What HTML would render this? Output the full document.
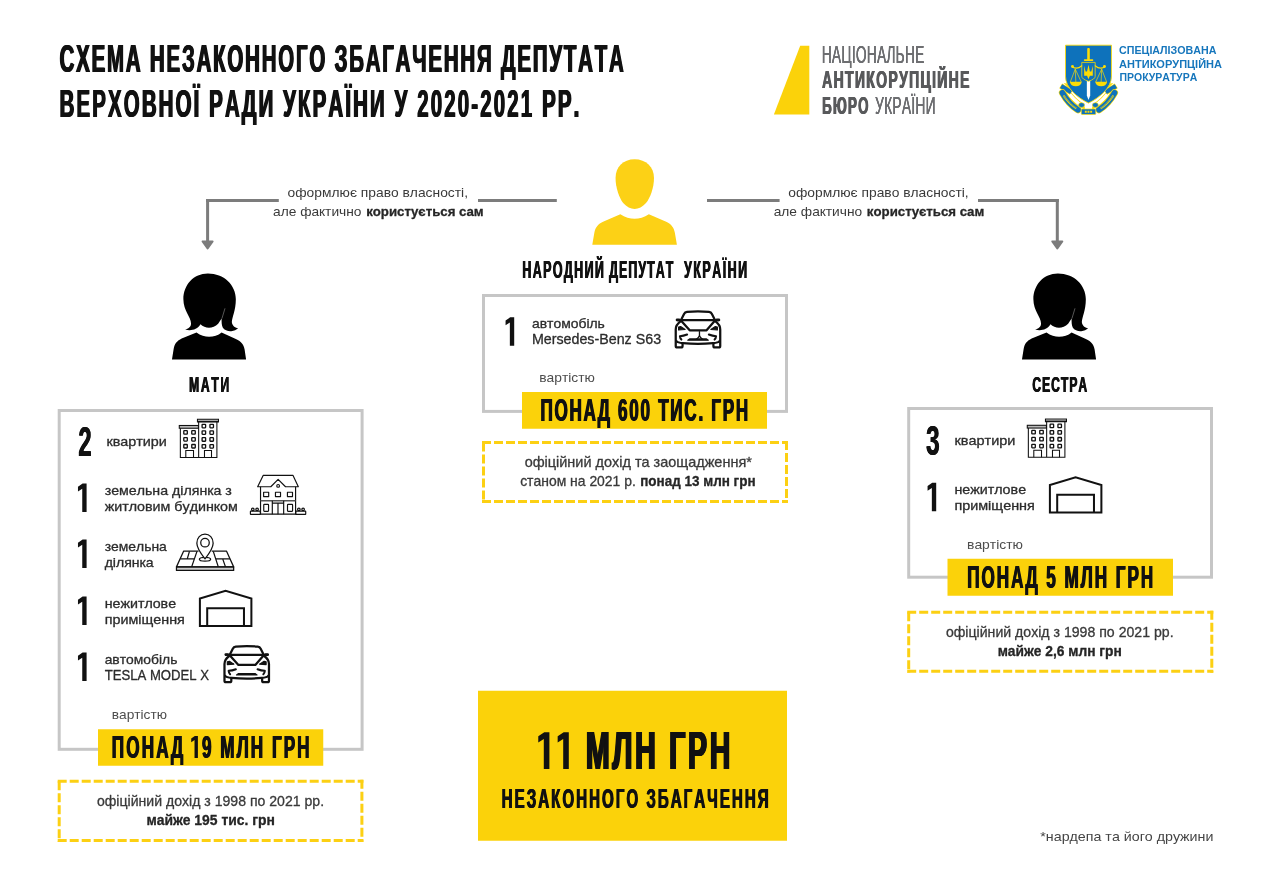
<!DOCTYPE html>
<html lang="uk"><head><meta charset="utf-8"><title>Схема</title>
<style>
html,body{margin:0;padding:0;background:#fff;}
body{width:1280px;height:877px;overflow:hidden;}
svg{display:block;font-family:"Liberation Sans", sans-serif;will-change:transform;}
text{white-space:pre;font-kerning:none;}
</style></head><body>
<svg width="1280" height="877" viewBox="0 0 1280 877">
<rect width="1280" height="877" fill="#fff"/>
<text id="t1" transform="translate(59.58,71.50) scale(0.5350,1)" font-size="38.18" font-weight="bold" fill="#111" letter-spacing="3.409">СХЕМА НЕЗАКОННОГО ЗБАГАЧЕННЯ ДЕПУТАТА</text>
<use href="#t1" x="-0.58"/>
<use href="#t1" x="0.58"/>
<text id="t2" transform="translate(59.58,116.50) scale(0.5350,1)" font-size="38.18" font-weight="bold" fill="#111" letter-spacing="4.009">ВЕРХОВНОЇ РАДИ УКРАЇНИ У 2020-2021 РР.</text>
<use href="#t2" x="-0.58"/>
<use href="#t2" x="0.58"/>
<polygon points="800.2,45.7 809.3,45.7 809.3,114.4 773.9,114.4" fill="#fbd20a"/>
<text id="t3" transform="translate(821.82,63.00) scale(0.5567,1)" font-size="24.58" font-weight="normal" fill="#6d6e71" letter-spacing="0.539">НАЦІОНАЛЬНЕ</text>
<use href="#t3" x="-0.12"/>
<use href="#t3" x="0.12"/>
<text id="t4" transform="translate(822.11,88.30) scale(0.5945,1)" font-size="23.64" font-weight="bold" fill="#58595b" letter-spacing="2.187">АНТИКОРУПЦІЙНЕ</text>
<use href="#t4" x="-0.41"/>
<use href="#t4" x="0.41"/>
<text id="t5" transform="translate(822.16,113.70) scale(0.5624,1)" font-size="23.64" font-weight="bold" fill="#58595b" letter-spacing="2.312">БЮРО</text>
<use href="#t5" x="-0.46"/>
<use href="#t5" x="0.46"/>
<text id="t6" transform="translate(875.10,113.70) scale(0.5727,1)" font-size="24.00" font-weight="normal" fill="#6d6e71" letter-spacing="0.524">УКРАЇНИ</text>
<use href="#t6" x="-0.10"/>
<use href="#t6" x="0.10"/>
<text x="1119.10" y="53.50" font-size="11.63" font-weight="bold" fill="#1676bc" textLength="97.30" lengthAdjust="spacingAndGlyphs">СПЕЦІАЛІЗОВАНА</text>
<text x="1119.10" y="67.50" font-size="11.63" font-weight="bold" fill="#1676bc" textLength="102.90" lengthAdjust="spacingAndGlyphs">АНТИКОРУПЦІЙНА</text>
<text x="1119.60" y="81.40" font-size="11.63" font-weight="bold" fill="#1676bc" textLength="77.60" lengthAdjust="spacingAndGlyphs">ПРОКУРАТУРА</text>
<g transform="translate(1054,38) scale(0.09576)">
<g fill="none" stroke-linecap="butt">
<g>
<path d="M140,555 Q200,650 300,712" stroke="#fddc05" stroke-width="50"/>
<path d="M140,555 Q200,650 300,712" stroke="#fff" stroke-width="36"/>
<path d="M70,500 L180,566" stroke="#fddc05" stroke-width="60"/>
<path d="M74,502 L180,566" stroke="#0e72bb" stroke-width="46"/>
<path d="M100,470 L150,478 L160,530 Z" fill="#fddc05" stroke="none"/>
<path d="M88,572 Q150,685 250,750" stroke="#fddc05" stroke-width="74" stroke-linecap="round"/>
<path d="M88,572 Q150,685 250,750" stroke="#0e72bb" stroke-width="60" stroke-linecap="round"/>
<path d="M100,600 Q155,690 235,738" stroke="#fddc05" stroke-width="20" stroke-dasharray="9 5"/>
<path d="M292,716 L322,716 L322,745 L300,745 Z" fill="#fddc05" stroke="none"/>
<ellipse cx="288" cy="700" rx="31" ry="25" fill="#0e72bb" stroke="#fddc05" stroke-width="6"/>
</g>
<g transform="translate(720,0) scale(-1,1)">
<path d="M140,555 Q200,650 300,712" stroke="#fddc05" stroke-width="50"/>
<path d="M140,555 Q200,650 300,712" stroke="#fff" stroke-width="36"/>
<path d="M70,500 L180,566" stroke="#fddc05" stroke-width="60"/>
<path d="M74,502 L180,566" stroke="#0e72bb" stroke-width="46"/>
<path d="M100,470 L150,478 L160,530 Z" fill="#fddc05" stroke="none"/>
<path d="M88,572 Q150,685 250,750" stroke="#fddc05" stroke-width="74" stroke-linecap="round"/>
<path d="M88,572 Q150,685 250,750" stroke="#0e72bb" stroke-width="60" stroke-linecap="round"/>
<path d="M100,600 Q155,690 235,738" stroke="#fddc05" stroke-width="20" stroke-dasharray="9 5"/>
<path d="M292,716 L322,716 L322,745 L300,745 Z" fill="#fddc05" stroke="none"/>
<ellipse cx="288" cy="700" rx="31" ry="25" fill="#0e72bb" stroke="#fddc05" stroke-width="6"/>
</g>
</g>
<rect x="285" y="741" width="151" height="58" rx="8" fill="#0e72bb" stroke="#fddc05" stroke-width="7"/>
<path d="M322,770 H400" stroke="#fddc05" stroke-width="22" stroke-dasharray="20 8" fill="none"/>
<path d="M120,75 L600,75 L600,400 C600,520 480,620 360,680 C240,620 120,520 120,400 Z" fill="#0e72bb" stroke="#fddc05" stroke-width="9"/>
<path d="M343,445 L378,445 L378,600 L360,648 L343,600 Z" fill="#fff"/>
<rect x="347" y="105" width="27" height="130" rx="10" fill="#fddc05"/>
<rect x="312" y="222" width="98" height="18" rx="8" fill="#fddc05"/>
<path d="M290,255 L430,255 L430,400 Q430,430 360,452 Q290,430 290,400 Z" fill="#0e72bb" stroke="#fddc05" stroke-width="8"/>
<path d="M315,290 L330,350 L345,350 L360,280 L375,350 L390,350 L405,290 L405,395 L375,395 L360,430 L345,395 L315,395 Z" fill="#fddc05"/>
<g fill="none" stroke="#fddc05" stroke-width="12" stroke-linecap="round">
<path d="M290,290 Q240,335 190,300"/><path d="M430,290 Q480,335 530,300"/>
</g>
<circle cx="193" cy="298" r="15" fill="#fddc05"/><circle cx="527" cy="298" r="15" fill="#fddc05"/>
<g fill="none" stroke="#fddc05" stroke-width="7">
<path d="M222,325 L170,460 M222,325 L285,460 M222,325 L228,460"/>
<path d="M498,325 L550,460 M498,325 L435,460 M498,325 L492,460"/>
</g>
<path d="M165,458 L290,458 Q280,505 228,505 Q175,505 165,458 Z" fill="#fddc05"/>
<path d="M430,458 L555,458 Q545,505 493,505 Q440,505 430,458 Z" fill="#fddc05"/>
</g>
<rect x="206.1" y="199" width="72.70000000000002" height="3" fill="#7c7c7c"/>
<rect x="478" y="199" width="78.79999999999995" height="3" fill="#7c7c7c"/>
<rect x="206.1" y="199" width="3" height="43" fill="#7c7c7c"/>
<path d="M202.6,241.4 L212.6,241.4 L207.6,248.4 Z" fill="#7c7c7c" stroke="#7c7c7c" stroke-width="2" stroke-linejoin="round"/>
<rect x="707" y="199" width="72.60000000000002" height="3" fill="#7c7c7c"/>
<rect x="978" y="199" width="80.79999999999995" height="3" fill="#7c7c7c"/>
<rect x="1055.8" y="199" width="3" height="43" fill="#7c7c7c"/>
<path d="M1052.3,241.4 L1062.3,241.4 L1057.3,248.4 Z" fill="#7c7c7c" stroke="#7c7c7c" stroke-width="2" stroke-linejoin="round"/>
<text x="287.50" y="197.00" font-size="13.60" font-weight="normal" fill="#3a3a3a" textLength="180.51" lengthAdjust="spacingAndGlyphs">оформлює право власності,</text>
<text x="273.00" y="216.00" font-size="13.60" font-weight="normal" fill="#3a3a3a" textLength="88.50" lengthAdjust="spacingAndGlyphs">але фактично</text>
<text x="366.15" y="216.00" font-size="13.60" font-weight="bold" fill="#262626" textLength="117.45" lengthAdjust="spacingAndGlyphs" stroke="#262626" stroke-width="0.3" stroke-linejoin="round">користується сам</text>
<text x="788.20" y="197.00" font-size="13.60" font-weight="normal" fill="#3a3a3a" textLength="180.51" lengthAdjust="spacingAndGlyphs">оформлює право власності,</text>
<text x="773.70" y="216.00" font-size="13.60" font-weight="normal" fill="#3a3a3a" textLength="88.50" lengthAdjust="spacingAndGlyphs">але фактично</text>
<text x="866.85" y="216.00" font-size="13.60" font-weight="bold" fill="#262626" textLength="117.45" lengthAdjust="spacingAndGlyphs" stroke="#262626" stroke-width="0.3" stroke-linejoin="round">користується сам</text>
<g transform="translate(585,150) scale(0.11403)" fill="#fcd116">
<path d="M435,82 C335,82 268,150 268,245 C268,330 300,420 335,465 C365,500 400,517 435,517 C470,517 505,500 535,465 C572,420 605,330 605,245 C605,150 535,82 435,82 Z"/>
<path d="M310,563 C350,592 395,603 435,603 C475,603 520,592 560,563 L712,630 C760,652 780,685 788,725 L806,830 L64,830 L82,725 C90,685 110,652 158,630 Z"/>
</g>
<g transform="translate(160,265) scale(0.11403)" fill="#000">
<path d="M420,75 C295,75 205,175 205,300 C205,400 272,455 272,512 C272,545 248,556 220,565 C262,580 325,572 355,520 C395,560 465,562 510,515 L540,470 C540,500 540,530 550,548 C565,575 600,582 625,580 C650,578 670,568 685,555 C655,550 632,530 630,500 C630,460 665,400 665,300 C665,175 560,75 420,75 Z"/>
<path d="M320,592 C355,620 395,630 430,630 C470,630 510,618 540,592 L665,648 C715,670 735,700 742,740 L755,828 L105,828 L120,735 C128,690 150,665 190,645 Z"/>
<path d="M570,380 L543,470" stroke="#fff" stroke-width="3" fill="none"/>
</g>
<g transform="translate(1010,265) scale(0.11403)" fill="#000">
<path d="M420,75 C295,75 205,175 205,300 C205,400 272,455 272,512 C272,545 248,556 220,565 C262,580 325,572 355,520 C395,560 465,562 510,515 L540,470 C540,500 540,530 550,548 C565,575 600,582 625,580 C650,578 670,568 685,555 C655,550 632,530 630,500 C630,460 665,400 665,300 C665,175 560,75 420,75 Z"/>
<path d="M320,592 C355,620 395,630 430,630 C470,630 510,618 540,592 L665,648 C715,670 735,700 742,740 L755,828 L105,828 L120,735 C128,690 150,665 190,645 Z"/>
<path d="M570,380 L543,470" stroke="#fff" stroke-width="3" fill="none"/>
</g>
<text id="t7" transform="translate(522.35,278.00) scale(0.5350,1)" font-size="23.27" font-weight="bold" fill="#111" letter-spacing="2.620">НАРОДНИЙ</text>
<use href="#t7" x="-0.35"/>
<use href="#t7" x="0.35"/>
<text id="t8" transform="translate(609.10,278.00) scale(0.5350,1)" font-size="23.27" font-weight="bold" fill="#111" letter-spacing="1.939">ДЕПУТАТ</text>
<use href="#t8" x="-0.35"/>
<use href="#t8" x="0.35"/>
<text id="t9" transform="translate(684.10,278.00) scale(0.5350,1)" font-size="23.27" font-weight="bold" fill="#111" letter-spacing="2.812">УКРАЇНИ</text>
<use href="#t9" x="-0.35"/>
<use href="#t9" x="0.35"/>
<text id="t10" transform="translate(189.09,391.75) scale(0.5350,1)" font-size="22.55" font-weight="bold" fill="#111" letter-spacing="3.284">МАТИ</text>
<use href="#t10" x="-0.34"/>
<use href="#t10" x="0.34"/>
<text id="t11" transform="translate(1032.34,391.75) scale(0.5350,1)" font-size="22.55" font-weight="bold" fill="#111" letter-spacing="1.955">СЕСТРА</text>
<use href="#t11" x="-0.34"/>
<use href="#t11" x="0.34"/>
<rect x="483.5" y="295.5" width="303" height="115.89999999999998" fill="none" stroke="#c6c6c6" stroke-width="3"/>
<rect x="59.2" y="410.5" width="302.90000000000003" height="338.79999999999995" fill="none" stroke="#c6c6c6" stroke-width="3"/>
<rect x="908.7" y="408.5" width="302.79999999999995" height="168.70000000000005" fill="none" stroke="#c6c6c6" stroke-width="3"/>
<g stroke="#fcd013" stroke-width="3.0" stroke-dasharray="9 3" fill="none"><path d="M482,442.5 H788"/><path d="M482,501.5 H788"/><path d="M483.5,442.5 V503"/><path d="M786.5,441 V503"/></g>
<g stroke="#fcd013" stroke-width="3.0" stroke-dasharray="9 3" fill="none"><path d="M57.7,781.3 H363.4"/><path d="M57.7,840.4 H363.4"/><path d="M59.2,781.3 V841.9"/><path d="M361.9,779.8 V841.9"/></g>
<g stroke="#fcd013" stroke-width="3.0" stroke-dasharray="9 3" fill="none"><path d="M907.2,612.2 H1213.3"/><path d="M907.2,671.3 H1213.3"/><path d="M908.7,612.2 V672.8"/><path d="M1211.8,610.7 V672.8"/></g>
<rect x="522" y="392" width="245" height="36.75" fill="#fbd20a"/>
<rect x="98" y="729.25" width="225.25" height="36.5" fill="#fbd20a"/>
<rect x="947.5" y="558.75" width="225.5" height="37.0" fill="#fbd20a"/>
<rect x="478" y="690.75" width="309" height="150.0" fill="#fbd20a"/>
<text id="t12" transform="translate(540.48,420.75) scale(0.5350,1)" font-size="32.00" font-weight="bold" fill="#111" letter-spacing="3.193">ПОНАД 600 ТИС. ГРН</text>
<use href="#t12" x="-0.48"/>
<use href="#t12" x="0.48"/>
<text id="t13" transform="translate(111.73,758.00) scale(0.5350,1)" font-size="32.00" font-weight="bold" fill="#111" letter-spacing="4.133">ПОНАД</text>
<use href="#t13" x="-0.48"/>
<use href="#t13" x="0.48"/>
<path d="M197.90,758.00 V736.00 H194.82 L191.21,738.42 V742.16 L194.53,739.96 V758.00 Z" fill="#111"/>
<text id="t14" transform="translate(201.98,758.00) scale(0.5350,1)" font-size="32.00" font-weight="bold" fill="#111" letter-spacing="3.826">9 МЛН ГРН</text>
<use href="#t14" x="-0.48"/>
<use href="#t14" x="0.48"/>
<text id="t15" transform="translate(967.23,588.00) scale(0.5350,1)" font-size="32.00" font-weight="bold" fill="#111" letter-spacing="3.682">ПОНАД 5 МЛН ГРН</text>
<use href="#t15" x="-0.48"/>
<use href="#t15" x="0.48"/>
<path d="M549.40,768.90 V732.30 H544.28 L538.27,736.33 V742.55 L543.80,738.89 V768.90 Z" fill="#111"/>
<path d="M568.80,768.90 V732.30 H563.68 L557.67,736.33 V742.55 L563.20,738.89 V768.90 Z" fill="#111"/>
<text id="t16" transform="translate(585.91,768.75) scale(0.5350,1)" font-size="53.45" font-weight="bold" fill="#111" letter-spacing="5.020">МЛН ГРН</text>
<use href="#t16" x="-0.40"/>
<use href="#t16" x="0.40"/>
<use href="#t16" x="-0.81"/>
<use href="#t16" x="0.81"/>
<text id="t17" transform="translate(501.68,807.50) scale(0.5350,1)" font-size="28.36" font-weight="bold" fill="#111" letter-spacing="3.707">НЕЗАКОННОГО ЗБАГАЧЕННЯ</text>
<use href="#t17" x="-0.43"/>
<use href="#t17" x="0.43"/>
<path d="M514.20,345.75 V317.35 H510.22 L505.57,320.47 V325.30 L509.85,322.46 V345.75 Z" fill="#111"/>
<text id="t18" transform="translate(78.42,456.25) scale(0.5670,1)" font-size="41.76" font-weight="bold" fill="#111" letter-spacing="0.000">2</text>
<use href="#t18" x="-0.42"/>
<use href="#t18" x="0.42"/>
<path d="M86.60,512.00 V483.60 H82.62 L77.97,486.72 V491.55 L82.25,488.71 V512.00 Z" fill="#111"/>
<path d="M86.60,568.00 V539.60 H82.62 L77.97,542.72 V547.55 L82.25,544.71 V568.00 Z" fill="#111"/>
<path d="M86.60,625.00 V596.60 H82.62 L77.97,599.72 V604.55 L82.25,601.71 V625.00 Z" fill="#111"/>
<path d="M86.60,681.00 V652.60 H82.62 L77.97,655.72 V660.55 L82.25,657.71 V681.00 Z" fill="#111"/>
<text id="t19" transform="translate(926.12,455.00) scale(0.5815,1)" font-size="41.76" font-weight="bold" fill="#111" letter-spacing="0.000">3</text>
<use href="#t19" x="-0.37"/>
<use href="#t19" x="0.37"/>
<path d="M936.20,511.25 V482.85 H932.22 L927.57,485.97 V490.80 L931.85,487.96 V511.25 Z" fill="#111"/>
<text x="531.90" y="327.50" font-size="13.10" font-weight="normal" fill="#2c2c2c" textLength="72.96" lengthAdjust="spacingAndGlyphs" stroke="#2c2c2c" stroke-width="0.3" stroke-linejoin="round">автомобіль</text>
<text x="531.90" y="343.75" font-size="14.00" font-weight="normal" fill="#2c2c2c" textLength="129.20" lengthAdjust="spacingAndGlyphs" stroke="#2c2c2c" stroke-width="0.3" stroke-linejoin="round">Mersedes-Benz S63</text>
<text x="106.40" y="445.75" font-size="13.10" font-weight="normal" fill="#2c2c2c" textLength="60.45" lengthAdjust="spacingAndGlyphs" stroke="#2c2c2c" stroke-width="0.3" stroke-linejoin="round">квартири</text>
<text x="104.65" y="495.00" font-size="13.10" font-weight="normal" fill="#2c2c2c" textLength="127.21" lengthAdjust="spacingAndGlyphs" stroke="#2c2c2c" stroke-width="0.3" stroke-linejoin="round">земельна ділянка з</text>
<text x="104.65" y="510.75" font-size="13.10" font-weight="normal" fill="#2c2c2c" textLength="133.20" lengthAdjust="spacingAndGlyphs" stroke="#2c2c2c" stroke-width="0.3" stroke-linejoin="round">житловим будинком</text>
<text x="104.65" y="550.50" font-size="13.10" font-weight="normal" fill="#2c2c2c" textLength="62.18" lengthAdjust="spacingAndGlyphs" stroke="#2c2c2c" stroke-width="0.3" stroke-linejoin="round">земельна</text>
<text x="104.65" y="566.75" font-size="13.10" font-weight="normal" fill="#2c2c2c" textLength="48.94" lengthAdjust="spacingAndGlyphs" stroke="#2c2c2c" stroke-width="0.3" stroke-linejoin="round">ділянка</text>
<text x="104.65" y="608.00" font-size="13.10" font-weight="normal" fill="#2c2c2c" textLength="71.45" lengthAdjust="spacingAndGlyphs" stroke="#2c2c2c" stroke-width="0.3" stroke-linejoin="round">нежитлове</text>
<text x="104.65" y="623.75" font-size="13.10" font-weight="normal" fill="#2c2c2c" textLength="80.19" lengthAdjust="spacingAndGlyphs" stroke="#2c2c2c" stroke-width="0.3" stroke-linejoin="round">приміщення</text>
<text x="104.65" y="663.75" font-size="13.10" font-weight="normal" fill="#2c2c2c" textLength="72.71" lengthAdjust="spacingAndGlyphs" stroke="#2c2c2c" stroke-width="0.3" stroke-linejoin="round">автомобіль</text>
<text x="104.65" y="679.50" font-size="14.00" font-weight="normal" fill="#2c2c2c" textLength="104.44" lengthAdjust="spacingAndGlyphs" stroke="#2c2c2c" stroke-width="0.3" stroke-linejoin="round">TESLA MODEL X</text>
<text x="954.40" y="445.00" font-size="13.10" font-weight="normal" fill="#2c2c2c" textLength="60.95" lengthAdjust="spacingAndGlyphs" stroke="#2c2c2c" stroke-width="0.3" stroke-linejoin="round">квартири</text>
<text x="954.40" y="493.75" font-size="13.10" font-weight="normal" fill="#2c2c2c" textLength="71.70" lengthAdjust="spacingAndGlyphs" stroke="#2c2c2c" stroke-width="0.3" stroke-linejoin="round">нежитлове</text>
<text x="954.40" y="509.50" font-size="13.10" font-weight="normal" fill="#2c2c2c" textLength="80.44" lengthAdjust="spacingAndGlyphs" stroke="#2c2c2c" stroke-width="0.3" stroke-linejoin="round">приміщення</text>
<text x="539.25" y="381.75" font-size="13.10" font-weight="normal" fill="#4d4d4d" textLength="55.74" lengthAdjust="spacingAndGlyphs">вартістю</text>
<text x="111.75" y="718.75" font-size="13.10" font-weight="normal" fill="#4d4d4d" textLength="55.24" lengthAdjust="spacingAndGlyphs">вартістю</text>
<text x="967.00" y="548.60" font-size="13.10" font-weight="normal" fill="#4d4d4d" textLength="55.99" lengthAdjust="spacingAndGlyphs">вартістю</text>
<text x="524.65" y="467.00" font-size="13.90" font-weight="normal" fill="#3a3a3a" textLength="227.20" lengthAdjust="spacingAndGlyphs" stroke="#3a3a3a" stroke-width="0.3" stroke-linejoin="round">офіційний дохід та заощадження*</text>
<text x="520.15" y="486.25" font-size="13.90" font-weight="normal" fill="#3a3a3a" textLength="115.70" lengthAdjust="spacingAndGlyphs" stroke="#3a3a3a" stroke-width="0.3" stroke-linejoin="round">станом на 2021 р.</text>
<text x="640.15" y="486.25" font-size="13.90" font-weight="bold" fill="#262626" textLength="115.45" lengthAdjust="spacingAndGlyphs" stroke="#262626" stroke-width="0.3" stroke-linejoin="round">понад 13 млн грн</text>
<text x="96.90" y="806.25" font-size="13.90" font-weight="normal" fill="#3a3a3a" textLength="227.19" lengthAdjust="spacingAndGlyphs" stroke="#3a3a3a" stroke-width="0.3" stroke-linejoin="round">офіційний дохід з 1998 по 2021 рр.</text>
<text x="146.40" y="825.00" font-size="13.90" font-weight="bold" fill="#262626" textLength="128.45" lengthAdjust="spacingAndGlyphs" stroke="#262626" stroke-width="0.3" stroke-linejoin="round">майже 195 тис. грн</text>
<text x="945.90" y="637.00" font-size="13.90" font-weight="normal" fill="#3a3a3a" textLength="227.69" lengthAdjust="spacingAndGlyphs" stroke="#3a3a3a" stroke-width="0.3" stroke-linejoin="round">офіційний дохід з 1998 по 2021 рр.</text>
<text x="997.65" y="655.50" font-size="13.90" font-weight="bold" fill="#262626" textLength="124.21" lengthAdjust="spacingAndGlyphs" stroke="#262626" stroke-width="0.3" stroke-linejoin="round">майже 2,6 млн грн</text>
<text x="1040.30" y="841.00" font-size="12.80" font-weight="normal" fill="#444" textLength="173.10" lengthAdjust="spacingAndGlyphs">*нардепа та його дружини</text>
<g transform="translate(170,410) scale(0.0627)" fill="none" stroke="#111" stroke-width="17">
<rect x="148" y="247" width="305" height="44" fill="#bbb"/>
<path d="M165,291 V757 H748 V192 M457,192 V757"/>
<rect x="438" y="148" width="335" height="42" fill="#fff"/>
<path d="M438,182 H773" stroke-width="24"/>
<rect x="220" y="329" width="56" height="56" rx="8" stroke-width="21"/>
<rect x="220" y="440" width="56" height="56" rx="8" stroke-width="21"/>
<rect x="220" y="550" width="56" height="56" rx="8" stroke-width="21"/>
<rect x="347" y="329" width="56" height="56" rx="8" stroke-width="21"/>
<rect x="347" y="440" width="56" height="56" rx="8" stroke-width="21"/>
<rect x="347" y="550" width="56" height="56" rx="8" stroke-width="21"/>
<rect x="512" y="229" width="56" height="56" rx="8" stroke-width="21"/>
<rect x="512" y="332" width="56" height="56" rx="8" stroke-width="21"/>
<rect x="512" y="442" width="56" height="56" rx="8" stroke-width="21"/>
<rect x="512" y="552" width="56" height="56" rx="8" stroke-width="21"/>
<rect x="637" y="229" width="56" height="56" rx="8" stroke-width="21"/>
<rect x="637" y="332" width="56" height="56" rx="8" stroke-width="21"/>
<rect x="637" y="442" width="56" height="56" rx="8" stroke-width="21"/>
<rect x="637" y="552" width="56" height="56" rx="8" stroke-width="21"/>
<path d="M252,757 V645 H375 V757 M550,757 V645 H662 V757"/>
</g>
<g transform="translate(1018.0,409.8) scale(0.0627)" fill="none" stroke="#111" stroke-width="17">
<rect x="148" y="247" width="305" height="44" fill="#bbb"/>
<path d="M165,291 V757 H748 V192 M457,192 V757"/>
<rect x="438" y="148" width="335" height="42" fill="#fff"/>
<path d="M438,182 H773" stroke-width="24"/>
<rect x="220" y="329" width="56" height="56" rx="8" stroke-width="21"/>
<rect x="220" y="440" width="56" height="56" rx="8" stroke-width="21"/>
<rect x="220" y="550" width="56" height="56" rx="8" stroke-width="21"/>
<rect x="347" y="329" width="56" height="56" rx="8" stroke-width="21"/>
<rect x="347" y="440" width="56" height="56" rx="8" stroke-width="21"/>
<rect x="347" y="550" width="56" height="56" rx="8" stroke-width="21"/>
<rect x="512" y="229" width="56" height="56" rx="8" stroke-width="21"/>
<rect x="512" y="332" width="56" height="56" rx="8" stroke-width="21"/>
<rect x="512" y="442" width="56" height="56" rx="8" stroke-width="21"/>
<rect x="512" y="552" width="56" height="56" rx="8" stroke-width="21"/>
<rect x="637" y="229" width="56" height="56" rx="8" stroke-width="21"/>
<rect x="637" y="332" width="56" height="56" rx="8" stroke-width="21"/>
<rect x="637" y="442" width="56" height="56" rx="8" stroke-width="21"/>
<rect x="637" y="552" width="56" height="56" rx="8" stroke-width="21"/>
<path d="M252,757 V645 H375 V757 M550,757 V645 H662 V757"/>
</g>
<g transform="translate(240,465) scale(0.06845)" fill="none" stroke="#111" stroke-width="17" stroke-linejoin="round">
<path d="M450,318 H258 L338,152 H775 L852,318 H665 L557,210 Z"/>
<circle cx="557" cy="305" r="20"/>
<path d="M300,318 V718 H812 V318"/>
<path d="M300,522 H812" stroke="#555" stroke-width="22"/>
<rect x="345" y="398" width="74" height="64"/>
<rect x="518" y="398" width="74" height="64"/>
<rect x="693" y="398" width="74" height="64"/>
<rect x="347" y="576" width="70" height="102" rx="8"/><rect x="694" y="576" width="74" height="102" rx="8"/>
<path d="M472,522 V718 M638,522 V718 M472,556 H638 M555,556 V718"/>
<rect x="152" y="674" width="145" height="48" rx="6"/><rect x="815" y="674" width="145" height="48" rx="6"/>
<circle cx="187" cy="648" r="19"/>
<circle cx="250" cy="648" r="19"/>
<circle cx="860" cy="648" r="19"/>
<circle cx="922" cy="648" r="19"/>
</g>
<g transform="translate(165,525) scale(0.0627)" fill="none" stroke="#111" stroke-width="20" stroke-linejoin="round">
<rect x="183" y="668" width="912" height="57" fill="#ccc"/>
<path d="M535,415 H298 L183,668 H1095 L980,415 H745"/>
<path d="M510,420 L425,668 M770,420 L850,668 M245,540 H470 M390,420 L355,540 M815,540 H1035 M920,540 L965,668"/>
<ellipse cx="638" cy="545" rx="90" ry="30"/>
<path d="M638,540 C560,440 508,370 508,290 C508,205 565,145 638,145 C711,145 768,205 768,290 C768,370 716,440 638,540 Z" fill="#fff"/>
<circle cx="638" cy="282" r="68"/>
</g>
<g transform="translate(190,582) scale(0.05931)" fill="none" stroke="#111" stroke-width="34" stroke-linejoin="miter">
<path d="M167,740 V280 L600,148 L1035,280 V740 Z"/>
<path d="M290,740 V443 H910 V740"/>
</g>
<g transform="translate(1040,468.5) scale(0.05931)" fill="none" stroke="#111" stroke-width="34" stroke-linejoin="miter">
<path d="M167,740 V280 L600,148 L1035,280 V740 Z"/>
<path d="M290,740 V443 H910 V740"/>
</g>
<g transform="translate(215,638) scale(0.05931)" fill="none" stroke="#111" stroke-width="38" stroke-linecap="round" stroke-linejoin="round">
<path d="M245,290 L300,180 Q315,150 350,146 Q535,125 720,146 Q755,150 770,180 L825,290"/>
<path d="M185,285 H885" />
<path d="M182,280 H215 M855,280 H888" stroke-width="46"/>
<path d="M245,300 Q160,360 160,440 V720 Q160,745 185,745 H250 Q275,745 275,720 V690"/>
<path d="M825,300 Q910,360 910,440 V720 Q910,745 885,745 H820 Q795,745 795,720 V690"/>
<path d="M175,640 Q190,665 280,672 Q535,695 790,672 Q880,665 895,640"/>
<path d="M255,300 L395,455 H680 L815,300"/>
<path d="M208,402 L242,392 L318,442 L208,448 Z" fill="#111" stroke-width="20"/>
<path d="M862,402 L828,392 L752,442 L862,448 Z" fill="#111" stroke-width="20"/>
<path d="M352,527 Q290,552 230,554 Q234,592 255,612" stroke-width="34"/>
<path d="M718,527 Q780,552 840,554 Q836,592 815,612" stroke-width="34"/>
<path d="M392,600 H680 L710,622 H362 Z" fill="#111" stroke-width="18"/>
</g>
<g transform="translate(666.25,303.3) scale(0.05931)" fill="none" stroke="#111" stroke-width="38" stroke-linecap="round" stroke-linejoin="round">
<path d="M245,290 L300,180 Q315,150 350,146 Q535,125 720,146 Q755,150 770,180 L825,290"/>
<path d="M185,285 H885" />
<path d="M182,280 H215 M855,280 H888" stroke-width="46"/>
<path d="M245,300 Q160,360 160,440 V720 Q160,745 185,745 H250 Q275,745 275,720 V690"/>
<path d="M825,300 Q910,360 910,440 V720 Q910,745 885,745 H820 Q795,745 795,720 V690"/>
<path d="M175,640 Q190,665 280,672 Q535,695 790,672 Q880,665 895,640"/>
<path d="M255,300 L395,455 H680 L815,300"/>
<path d="M208,402 L242,392 L318,442 L208,448 Z" fill="#111" stroke-width="20"/>
<path d="M862,402 L828,392 L752,442 L862,448 Z" fill="#111" stroke-width="20"/>
<path d="M352,527 Q290,552 230,554 Q234,592 255,612" stroke-width="34"/>
<path d="M718,527 Q780,552 840,554 Q836,592 815,612" stroke-width="34"/>
<path d="M392,600 H680 L710,622 H362 Z" fill="#111" stroke-width="18"/>
<path d="M560,480 V560 M560,540 Q545,590 505,608 M560,540 Q575,590 615,608" stroke-width="22"/>
</g>
</svg>
</body></html>
